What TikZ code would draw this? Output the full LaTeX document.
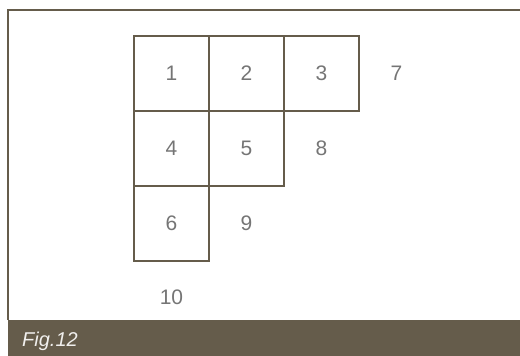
\documentclass[tikz,border=0pt]{standalone}
\usepackage{fontspec}
\setmainfont{Liberation Sans}
\usepackage{xcolor}
\definecolor{figBrown}{HTML}{655C4B}
\definecolor{figGray}{HTML}{757575}
\usepackage{tikz}

\begin{document}
\begin{tikzpicture}[x=1pt, y=1pt,
    cell/.style={draw=figBrown, line width=1.8pt, minimum size=75pt, inner sep=0pt, text=figGray, font=\fontsize{21}{21}\selectfont},
    loose/.style={text=figGray, font=\fontsize{21}{21}\selectfont}]
  \useasboundingbox (0,0) rectangle (520,356);
  % frame and caption band
  \fill[figBrown] (8,0) rectangle (520,36);
  \draw[figBrown, line width=1.8pt] (8,36) -- (8,346) -- (520,346);
  \node[anchor=west, inner sep=0pt, text=white!90!figBrown, font=\fontsize{20}{20}\selectfont\itshape] (cap) at (22,15) {Fig.12};
  % the staircase of squares
  \node[cell] (c1) at (171.5,282.5) {1};
  \node[cell] (c2) at (246.5,282.5) {2};
  \node[cell] (c3) at (321.5,282.5) {3};
  \node[cell] (c4) at (171.5,207.5) {4};
  \node[cell] (c5) at (246.5,207.5) {5};
  \node[cell] (c6) at (171.5,132.5) {6};
  % the numbers outside
  \node[loose] (n7) at (396.5,282.5) {7};
  \node[loose] (n8) at (321.5,207.5) {8};
  \node[loose] (n9) at (246.5,132.5) {9};
  \node[loose] (n10) at (171.5,59) {10};
\end{tikzpicture}
\end{document}
